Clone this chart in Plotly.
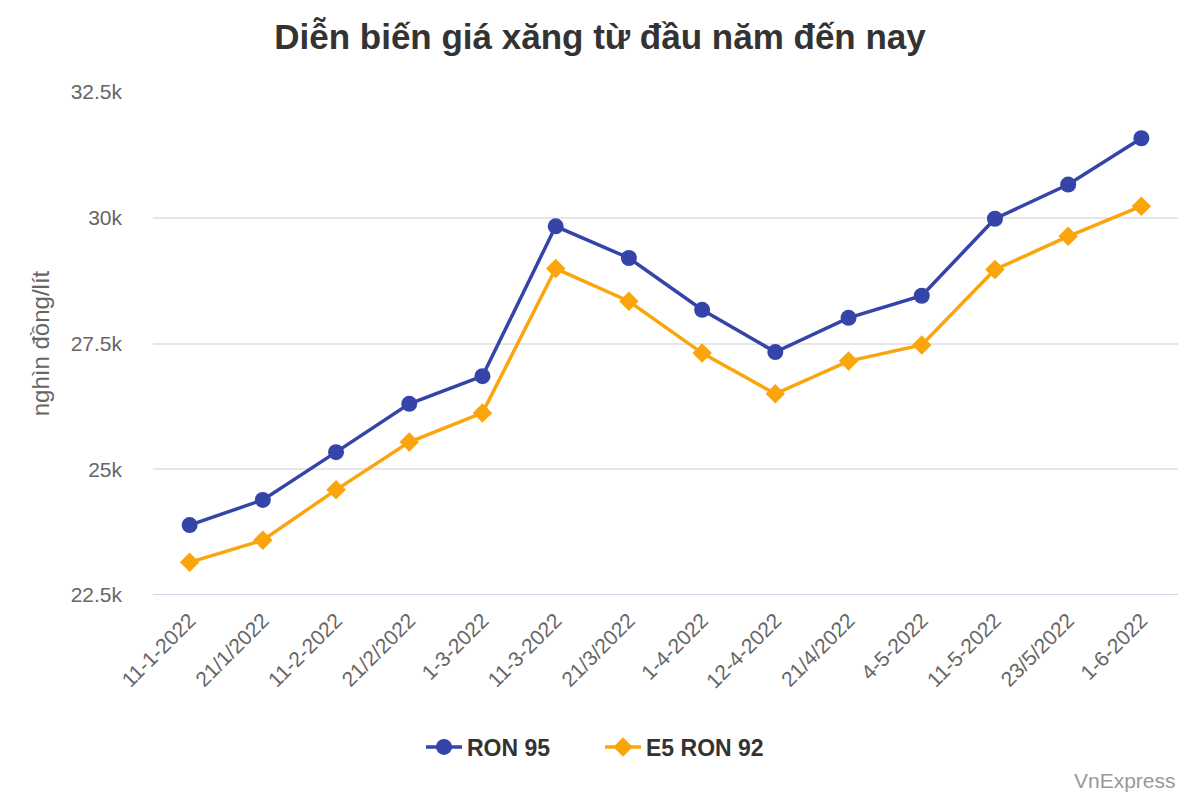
import plotly.graph_objects as go

dates = ["11-1-2022", "21/1/2022", "11-2-2022", "21/2/2022", "1-3-2022", "11-3-2022",
         "21/3/2022", "1-4-2022", "12-4-2022", "21/4/2022", "4-5-2022", "11-5-2022",
         "23/5/2022", "1-6-2022"]
ron95 = [23890, 24390, 25340, 26300, 26850, 29830, 29200, 28170, 27330, 28010, 28450,
         29980, 30660, 31580]
e5ron92 = [23150, 23590, 24590, 25540, 26120, 28990, 28340, 27310, 26500, 27150, 27470,
           28970, 29630, 30230]
ytick_vals = [22500, 25000, 27500, 30000, 32500]
ytick_text = ["22.5k", "25k", "27.5k", "30k", "32.5k"]

BLUE = "#3444a8"
ORANGE = "#fba50d"
FONT = "Liberation Sans, Arial, sans-serif"

fig = go.Figure()
fig.add_trace(go.Scatter(
    x=dates, y=ron95, name="<b>RON 95</b>", mode="lines+markers",
    line=dict(color=BLUE, width=3.5),
    marker=dict(symbol="circle", size=16, color=BLUE),
))
fig.add_trace(go.Scatter(
    x=dates, y=e5ron92, name="<b>E5 RON 92</b>", mode="lines+markers",
    line=dict(color=ORANGE, width=3.5),
    marker=dict(symbol="diamond", size=15, color=ORANGE),
))

fig.update_layout(
    width=1200, height=800,
    paper_bgcolor="white", plot_bgcolor="white",
    font=dict(family=FONT, color="#666666"),
    margin=dict(l=153, r=22, t=92, b=205, autoexpand=False),
    title=dict(text="<b>Diễn biến giá xăng từ đầu năm đến nay</b>",
               x=0.5, xanchor="center", y=1 - 37 / 800, yanchor="middle",
               font=dict(size=35, color="#333333", family=FONT)),
    showlegend=True,
    legend=dict(orientation="h", xref="container", x=0.5, xanchor="center",
                yref="container", y=1 - 747 / 800, yanchor="middle",
                font=dict(size=23, color="#333333", family=FONT),
                itemwidth=36, traceorder="normal",
                entrywidthmode="pixels", entrywidth=128),
    xaxis=dict(type="category", range=[-0.5, 13.5], tickangle=-45, automargin=False,
               tickfont=dict(size=21, color="#666666"), ticklabelstandoff=8,
               showgrid=False, showline=False, ticks="", zeroline=False),
    yaxis=dict(range=[22500, 32500], tickvals=ytick_vals, ticktext=ytick_text,
               automargin=False,
               tickfont=dict(size=21, color="#666666"),
               showgrid=True, gridcolor="#e6e6e6", gridwidth=1.5, zeroline=False,
               ticks="", ticklabelstandoff=30,
               title=dict(text="nghìn đồng/lít", font=dict(size=24, color="#666666"),
                          standoff=14)),
)
fig.add_shape(type="line", xref="paper", yref="y", x0=0, x1=1, y0=22500, y1=22500,
              line=dict(color="#ccd6eb", width=2), layer="below")
fig.add_annotation(text="VnExpress", xref="paper", yref="paper", x=1.0, y=(595 - 780) / 503,
                   xanchor="right", yanchor="middle", showarrow=False,
                   font=dict(size=21, color="#999999", family=FONT))
fig.update_traces(cliponaxis=False)

fig.write_html("out.html")
